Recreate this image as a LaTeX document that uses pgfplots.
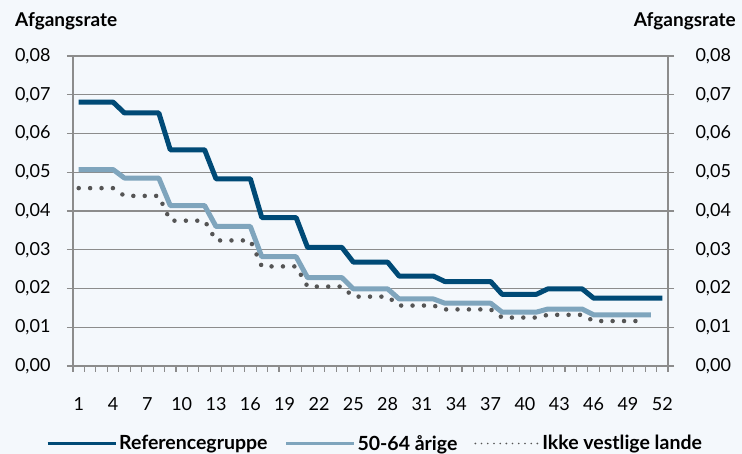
\documentclass[border=0pt]{standalone}
\usepackage{pgfplots}
\pgfplotsset{compat=1.18}
\usepackage{pgfplotstable}
\usepackage{fontspec}
\setmainfont{Lato}

\definecolor{bgcol}{HTML}{F4F8FC}
\definecolor{refblue}{HTML}{004A76}
\definecolor{agecol}{HTML}{7FA5BD}
\definecolor{dotcol}{HTML}{555555}
\definecolor{gridcol}{HTML}{8C8C8C}

% Afgangsrate pr. uge
\pgfplotstableread{
uge ref alder ikke
1 0.0681 0.0507 0.0459
2 0.0681 0.0507 0.0459
3 0.0681 0.0507 0.0459
4 0.0681 0.0507 0.0459
5 0.0653 0.0485 0.0439
6 0.0653 0.0485 0.0439
7 0.0653 0.0485 0.0439
8 0.0653 0.0485 0.0439
9 0.0558 0.0414 0.0375
10 0.0558 0.0414 0.0375
11 0.0558 0.0414 0.0375
12 0.0558 0.0414 0.0375
13 0.0483 0.0360 0.0324
14 0.0483 0.0360 0.0324
15 0.0483 0.0360 0.0324
16 0.0483 0.0360 0.0324
17 0.0383 0.0282 0.0257
18 0.0383 0.0282 0.0257
19 0.0383 0.0282 0.0257
20 0.0383 0.0282 0.0257
21 0.0306 0.0228 0.0205
22 0.0306 0.0228 0.0205
23 0.0306 0.0228 0.0205
24 0.0306 0.0228 0.0205
25 0.0268 0.0199 0.0179
26 0.0268 0.0199 0.0179
27 0.0268 0.0199 0.0179
28 0.0268 0.0199 0.0179
29 0.0232 0.0173 0.0156
30 0.0232 0.0173 0.0156
31 0.0232 0.0173 0.0156
32 0.0232 0.0173 0.0156
33 0.0218 0.0162 0.0146
34 0.0218 0.0162 0.0146
35 0.0218 0.0162 0.0146
36 0.0218 0.0162 0.0146
37 0.0218 0.0162 0.0146
38 0.0185 0.0139 0.0125
39 0.0185 0.0139 0.0125
40 0.0185 0.0139 0.0125
41 0.0185 0.0139 0.0125
42 0.0199 0.0147 0.0132
43 0.0199 0.0147 0.0132
44 0.0199 0.0147 0.0132
45 0.0199 0.0147 0.0132
46 0.0175 0.0132 0.0116
47 0.0175 0.0132 0.0116
48 0.0175 0.0132 0.0116
49 0.0175 0.0132 0.0116
50 0.0175 0.0132 0.0116
51 0.0175 0.0132 nan
52 0.0175 nan nan
}\rates

\pgfplotsset{
  ratebase/.style={
    scale only axis, width=595pt, height=310pt,
    anchor=south west, at={(73pt,88pt)},
    xmin=0.5, xmax=52.5, ymin=0, ymax=0.08,
    ytick={0,0.01,0.02,0.03,0.04,0.05,0.06,0.07,0.08},
    scaled y ticks=false,
    yticklabel style={/pgf/number format/fixed, /pgf/number format/fixed zerofill,
      /pgf/number format/precision=2, /pgf/number format/use comma,
      /pgf/number format/assume math mode=true},
    tick label style={font=\fontsize{18}{21}\selectfont},
    tick align=outside, major tick length=6pt,
    ytick style={gridcol, line width=1.3pt},
    axis line style={gridcol, line width=1.5pt, -},
  }
}

\begin{document}
\begin{tikzpicture}
\fill[bgcol] (0,0) rectangle (742pt,454pt);

\begin{axis}[ratebase,
  axis y line*=left, axis x line*=bottom,
  yticklabel style={xshift=-13pt},
  ymajorgrids, grid style={gridcol, line width=1.3pt},
  xtick={0.5,1.5,...,52.5}, xticklabels={},
  xtick style={gridcol, line width=1.1pt},
  extra x ticks={1,4,...,52},
  extra x tick style={major tick length=0pt, xtick style={draw=none},
    xticklabel style={/pgf/number format/assume math mode=true, yshift=-28pt}},
  legend columns=3,
  legend style={at={(0.5076,-0.25)}, anchor=center, draw=none, fill=none,
    font=\bfseries\fontsize{19.5}{22}\selectfont,
    /tikz/every even column/.append style={column sep=15pt}},
  legend cell align=left,
]
\addplot[refblue, line width=5pt, line join=round,
  legend image code/.code={\draw[refblue, line width=3pt] (0pt,0pt) -- (68pt,0pt);}]
  table[x=uge, y=ref] {\rates};
\addlegendentry{Referencegruppe}
\addplot[agecol, line width=5pt, line join=round,
  legend image code/.code={\draw[agecol, line width=3pt] (0pt,0pt) -- (68pt,0pt);}]
  table[x=uge, y=alder] {\rates};
\addlegendentry{50-64 årige}
\addplot[dotcol, line width=4.5pt, line cap=round, dash pattern=on 0pt off 11.4pt,
  legend image code/.code={\draw[dotcol, line width=1.8pt, line cap=round, dash pattern=on 0pt off 6.2pt] (1pt,0pt) -- (65pt,0pt);}]
  table[x=uge, y=ikke] {\rates};
\addlegendentry{Ikke vestlige lande}
\end{axis}

\begin{axis}[ratebase,
  axis y line*=right, axis x line=none,
  yticklabel style={xshift=18pt},
]
\end{axis}

\node[anchor=base west, inner sep=0pt, font=\bfseries\fontsize{19}{22}\selectfont]
  at (15pt,427pt) {Afgangsrate};
\node[anchor=base east, inner sep=0pt, font=\bfseries\fontsize{19}{22}\selectfont]
  at (736pt,427pt) {Afgangsrate};

\pgfresetboundingbox
\path (0,0) rectangle (742pt,454pt);
\end{tikzpicture}
\end{document}
